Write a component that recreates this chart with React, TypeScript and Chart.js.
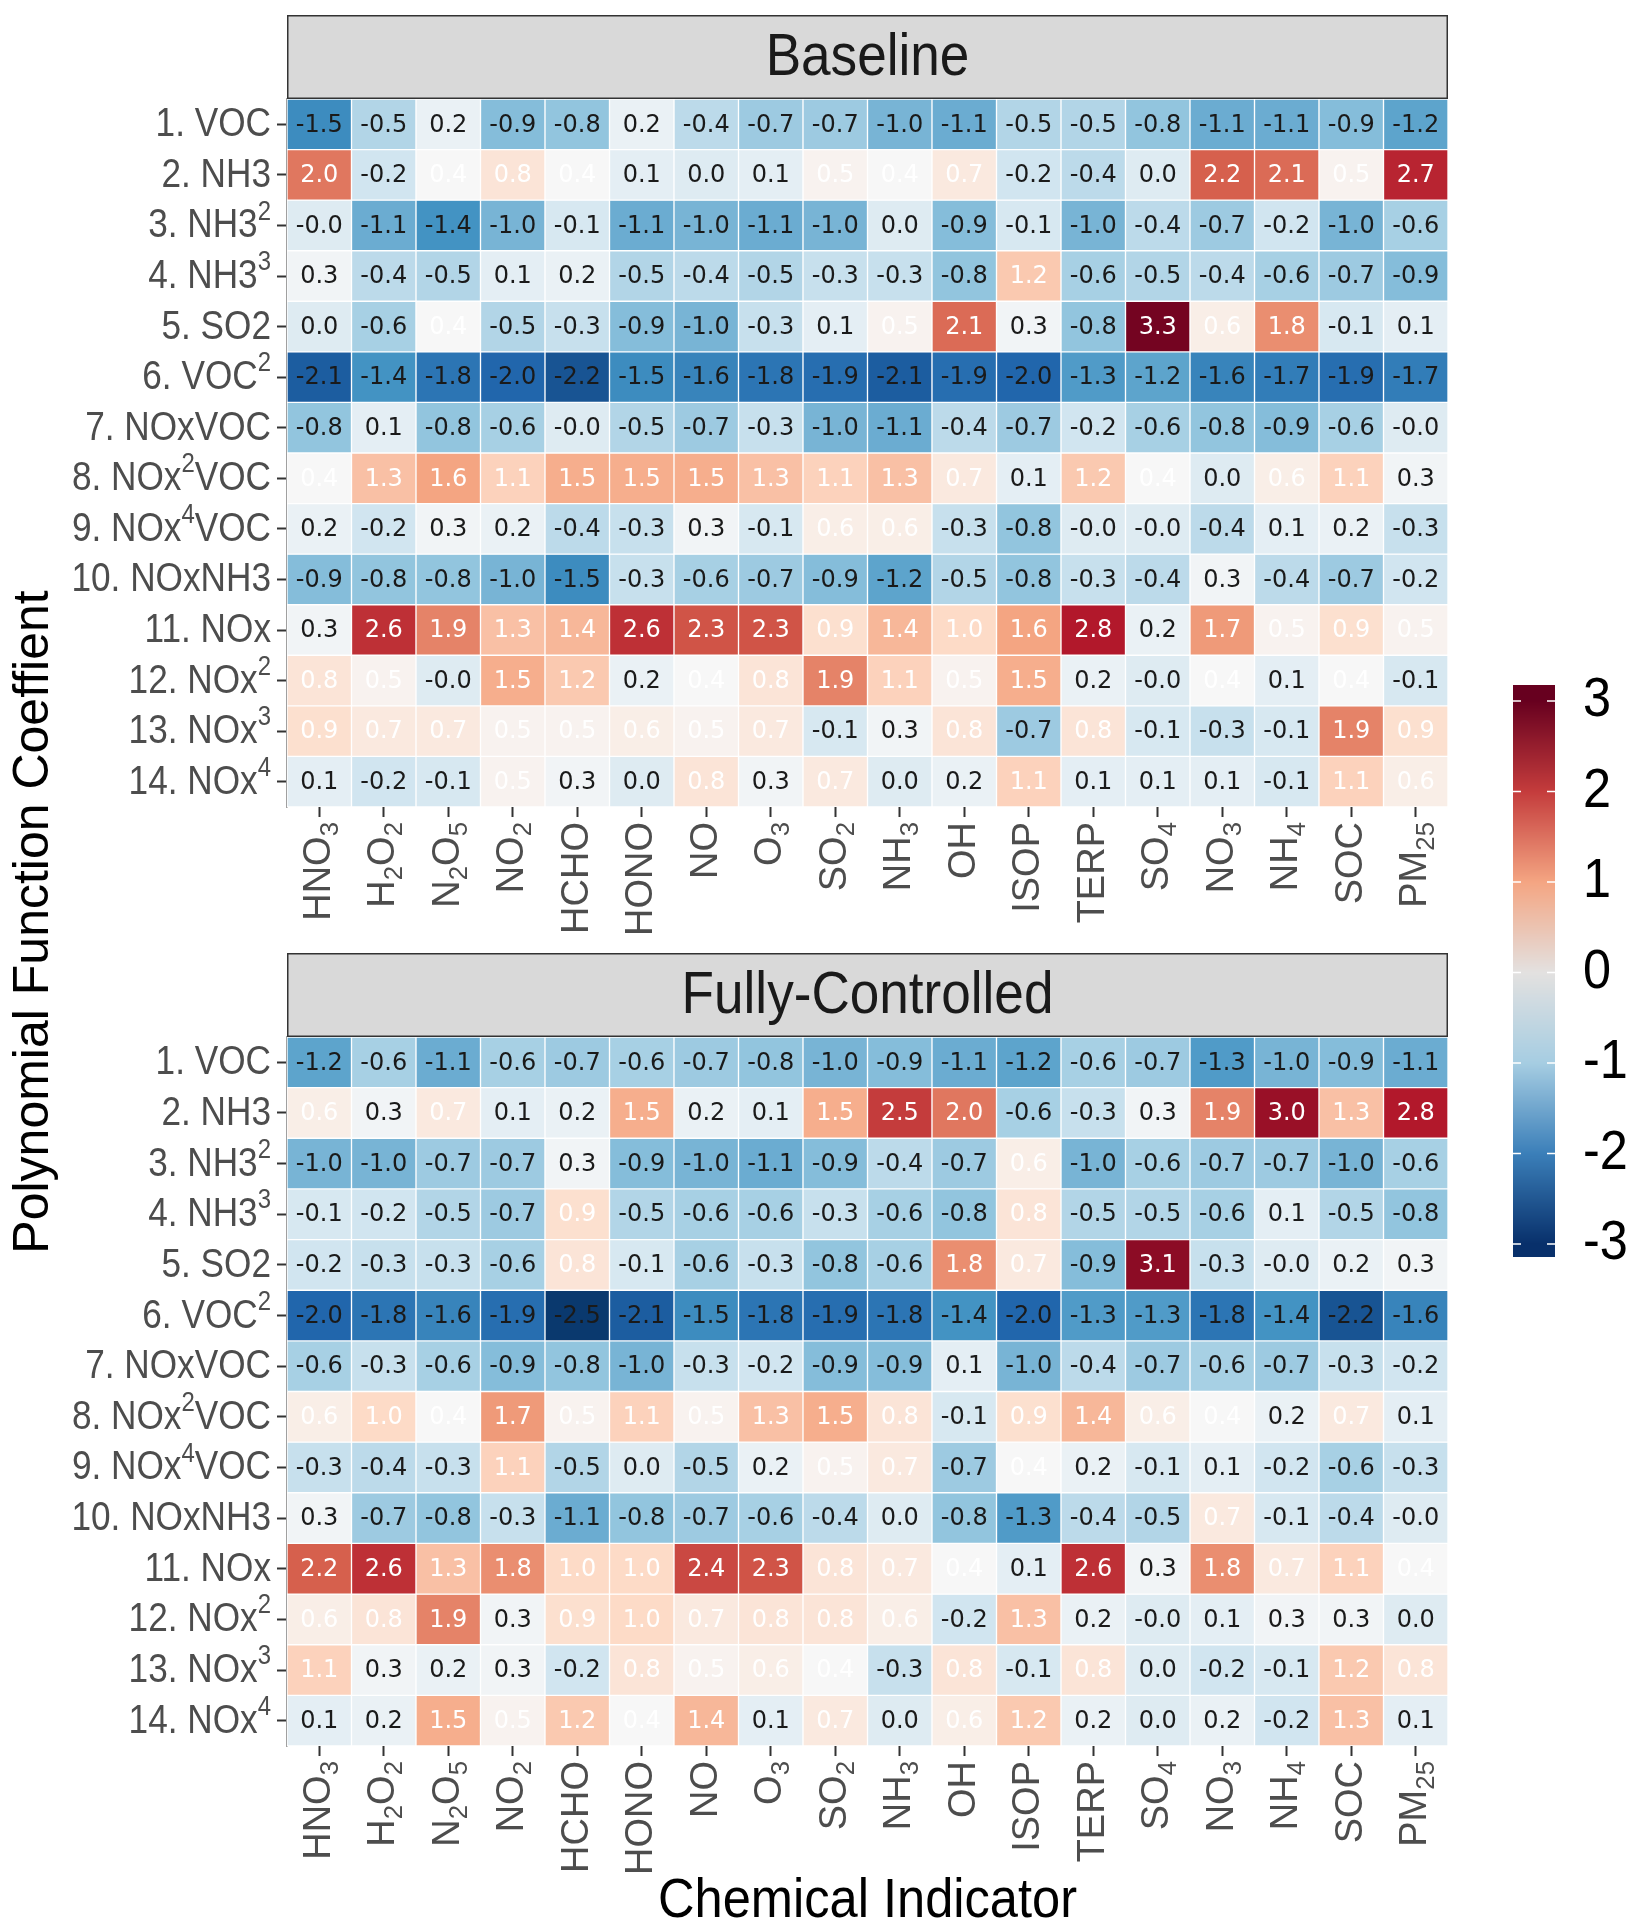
import React, { useEffect, useRef } from "react";
import { Chart, registerables } from "chart.js";

Chart.register(...registerables);

// ---------------- DATA ----------------
const chemicals = ["HNO3", "H2O2", "N2O5", "NO2", "HCHO", "HONO", "NO", "O3", "SO2", "NH3", "OH", "ISOP", "TERP", "SO4", "NO3", "NH4", "SOC", "PM25"];
const terms = ["1. VOC", "2. NH3", "3. NH3^2", "4. NH3^3", "5. SO2", "6. VOC^2", "7. NOxVOC", "8. NOx^2VOC", "9. NOx^4VOC", "10. NOxNH3", "11. NOx", "12. NOx^2", "13. NOx^3", "14. NOx^4"];
const panelTitles = ["Baseline", "Fully-Controlled"];
const colorbarTicks = [3, 2, 1, 0, -1, -2, -3];

// Baseline coefficients (rows = terms, cols = chemicals)
const baseline = [
  [-1.5, -0.5, 0.2, -0.9, -0.8, 0.2, -0.4, -0.7, -0.7, -1.0, -1.1, -0.5, -0.5, -0.8, -1.1, -1.1, -0.9, -1.2],
  [2.0, -0.2, 0.4, 0.8, 0.4, 0.1, 0.0, 0.1, 0.5, 0.4, 0.7, -0.2, -0.4, 0.0, 2.2, 2.1, 0.5, 2.7],
  [-0, -1.1, -1.4, -1.0, -0.1, -1.1, -1.0, -1.1, -1.0, 0.0, -0.9, -0.1, -1.0, -0.4, -0.7, -0.2, -1.0, -0.6],
  [0.3, -0.4, -0.5, 0.1, 0.2, -0.5, -0.4, -0.5, -0.3, -0.3, -0.8, 1.2, -0.6, -0.5, -0.4, -0.6, -0.7, -0.9],
  [0.0, -0.6, 0.4, -0.5, -0.3, -0.9, -1.0, -0.3, 0.1, 0.5, 2.1, 0.3, -0.8, 3.3, 0.6, 1.8, -0.1, 0.1],
  [-2.1, -1.4, -1.8, -2.0, -2.2, -1.5, -1.6, -1.8, -1.9, -2.1, -1.9, -2.0, -1.3, -1.2, -1.6, -1.7, -1.9, -1.7],
  [-0.8, 0.1, -0.8, -0.6, -0, -0.5, -0.7, -0.3, -1.0, -1.1, -0.4, -0.7, -0.2, -0.6, -0.8, -0.9, -0.6, -0],
  [0.4, 1.3, 1.6, 1.1, 1.5, 1.5, 1.5, 1.3, 1.1, 1.3, 0.7, 0.1, 1.2, 0.4, 0.0, 0.6, 1.1, 0.3],
  [0.2, -0.2, 0.3, 0.2, -0.4, -0.3, 0.3, -0.1, 0.6, 0.6, -0.3, -0.8, -0, -0, -0.4, 0.1, 0.2, -0.3],
  [-0.9, -0.8, -0.8, -1.0, -1.5, -0.3, -0.6, -0.7, -0.9, -1.2, -0.5, -0.8, -0.3, -0.4, 0.3, -0.4, -0.7, -0.2],
  [0.3, 2.6, 1.9, 1.3, 1.4, 2.6, 2.3, 2.3, 0.9, 1.4, 1.0, 1.6, 2.8, 0.2, 1.7, 0.5, 0.9, 0.5],
  [0.8, 0.5, -0, 1.5, 1.2, 0.2, 0.4, 0.8, 1.9, 1.1, 0.5, 1.5, 0.2, -0, 0.4, 0.1, 0.4, -0.1],
  [0.9, 0.7, 0.7, 0.5, 0.5, 0.6, 0.5, 0.7, -0.1, 0.3, 0.8, -0.7, 0.8, -0.1, -0.3, -0.1, 1.9, 0.9],
  [0.1, -0.2, -0.1, 0.5, 0.3, 0.0, 0.8, 0.3, 0.7, 0.0, 0.2, 1.1, 0.1, 0.1, 0.1, -0.1, 1.1, 0.6],
];

// Fully-controlled coefficients
const controlled = [
  [-1.2, -0.6, -1.1, -0.6, -0.7, -0.6, -0.7, -0.8, -1.0, -0.9, -1.1, -1.2, -0.6, -0.7, -1.3, -1.0, -0.9, -1.1],
  [0.6, 0.3, 0.7, 0.1, 0.2, 1.5, 0.2, 0.1, 1.5, 2.5, 2.0, -0.6, -0.3, 0.3, 1.9, 3.0, 1.3, 2.8],
  [-1.0, -1.0, -0.7, -0.7, 0.3, -0.9, -1.0, -1.1, -0.9, -0.4, -0.7, 0.6, -1.0, -0.6, -0.7, -0.7, -1.0, -0.6],
  [-0.1, -0.2, -0.5, -0.7, 0.9, -0.5, -0.6, -0.6, -0.3, -0.6, -0.8, 0.8, -0.5, -0.5, -0.6, 0.1, -0.5, -0.8],
  [-0.2, -0.3, -0.3, -0.6, 0.8, -0.1, -0.6, -0.3, -0.8, -0.6, 1.8, 0.7, -0.9, 3.1, -0.3, -0, 0.2, 0.3],
  [-2.0, -1.8, -1.6, -1.9, -2.5, -2.1, -1.5, -1.8, -1.9, -1.8, -1.4, -2.0, -1.3, -1.3, -1.8, -1.4, -2.2, -1.6],
  [-0.6, -0.3, -0.6, -0.9, -0.8, -1.0, -0.3, -0.2, -0.9, -0.9, 0.1, -1.0, -0.4, -0.7, -0.6, -0.7, -0.3, -0.2],
  [0.6, 1.0, 0.4, 1.7, 0.5, 1.1, 0.5, 1.3, 1.5, 0.8, -0.1, 0.9, 1.4, 0.6, 0.4, 0.2, 0.7, 0.1],
  [-0.3, -0.4, -0.3, 1.1, -0.5, 0.0, -0.5, 0.2, 0.5, 0.7, -0.7, 0.4, 0.2, -0.1, 0.1, -0.2, -0.6, -0.3],
  [0.3, -0.7, -0.8, -0.3, -1.1, -0.8, -0.7, -0.6, -0.4, 0.0, -0.8, -1.3, -0.4, -0.5, 0.7, -0.1, -0.4, -0],
  [2.2, 2.6, 1.3, 1.8, 1.0, 1.0, 2.4, 2.3, 0.8, 0.7, 0.4, 0.1, 2.6, 0.3, 1.8, 0.7, 1.1, 0.4],
  [0.6, 0.8, 1.9, 0.3, 0.9, 1.0, 0.7, 0.8, 0.8, 0.6, -0.2, 1.3, 0.2, -0, 0.1, 0.3, 0.3, 0.0],
  [1.1, 0.3, 0.2, 0.3, -0.2, 0.8, 0.5, 0.6, 0.4, -0.3, 0.8, -0.1, 0.8, 0.0, -0.2, -0.1, 1.2, 0.8],
  [0.1, 0.2, 1.5, 0.5, 1.2, 0.4, 1.4, 0.1, 0.7, 0.0, 0.6, 1.2, 0.2, 0.0, 0.2, -0.2, 1.3, 0.1],
];

// ---------------- STYLE ----------------
const SANS = "'Liberation Sans', Arial, Helvetica, sans-serif";
const CELL_FONT = "'DejaVu Sans', Verdana, sans-serif";
const W = 1639;
const H = 1932;
const SPLIT = 945; // canvas boundary between the two panels
const PLOT_LEFT = 287;
const PLOT_RIGHT = 1448;
const STRIP_H = 84;
const TICK_LEN = 10;
const AXIS_TEXT = "#4d4d4d";

const RDBU: [number, string][] = [
  [-3.0, "#053061"], [-2.4, "#2166ac"], [-1.8, "#4393c3"], [-1.2, "#92c5de"], [-0.6, "#d1e5f0"],
  [0.0, "#f7f7f7"], [0.6, "#fddbc7"], [1.2, "#f4a582"], [1.8, "#d6604d"], [2.4, "#b2182b"], [3.0, "#67001f"],
];
const BAR_STOPS: [number, string][] = [
  [-3.0, "#08306b"], [-2.0, "#3b7fb9"], [-1.0, "#a6cde2"], [0.0, "#e3e1e0"],
  [1.0, "#f4a582"], [2.0, "#c43c3c"], [3.0, "#67001f"],
];
const COLOR_SHIFT = 0.4;

function hexToRgb(h: string) {
  const n = parseInt(h.slice(1), 16);
  return [(n >> 16) & 255, (n >> 8) & 255, n & 255];
}
function interp(stops: [number, string][], v: number) {
  if (v <= stops[0][0]) return stops[0][1];
  if (v >= stops[stops.length - 1][0]) return stops[stops.length - 1][1];
  for (let i = 0; i < stops.length - 1; i++) {
    const [a, ca] = stops[i];
    const [b, cb] = stops[i + 1];
    if (v >= a && v <= b) {
      const t = (v - a) / (b - a);
      const A = hexToRgb(ca), B = hexToRgb(cb);
      const c = A.map((x, k) => Math.round(x + (B[k] - x) * t));
      return `rgb(${c[0]},${c[1]},${c[2]})`;
    }
  }
  return stops[0][1];
}
const cellColor = (v: number) => interp(RDBU, v - COLOR_SHIFT);

function fmt(v: number) {
  const neg = v < 0 || Object.is(v, -0);
  return (neg ? "-" : "") + Math.abs(v).toFixed(1);
}

type Seg = { t: string; k: number };
function parseTerm(s: string): Seg[] {
  const segs: Seg[] = [];
  let buf = "";
  for (let i = 0; i < s.length; i++) {
    if (s[i] === "^") {
      if (buf) segs.push({ t: buf, k: 0 });
      buf = "";
      segs.push({ t: s[i + 1], k: 1 });
      i++;
    } else buf += s[i];
  }
  if (buf) segs.push({ t: buf, k: 0 });
  return segs;
}
function parseChem(s: string): Seg[] {
  const segs: Seg[] = [];
  for (const ch of s) {
    const k = /\d/.test(ch) ? -1 : 0;
    const last = segs[segs.length - 1];
    if (last && last.k === k) last.t += ch;
    else segs.push({ t: ch, k });
  }
  return segs;
}
function drawRich(ctx: CanvasRenderingContext2D, segs: Seg[], size: number, align: string) {
  const small = size * 0.68;
  ctx.textBaseline = "middle";
  ctx.textAlign = "left";
  const widths = segs.map((s) => {
    ctx.font = `${s.k ? small : size}px ${SANS}`;
    return ctx.measureText(s.t).width;
  });
  const total = widths.reduce((a, b) => a + b, 0);
  let x = align === "right" ? -total : align === "center" ? -total / 2 : 0;
  segs.forEach((s, i) => {
    ctx.font = `${s.k ? small : size}px ${SANS}`;
    const dy = s.k === 1 ? -size * 0.36 : s.k === -1 ? size * 0.3 : 0;
    ctx.fillText(s.t, x, dy);
    x += widths[i];
  });
}

function makePanelPlugin(values: number[][], title: string, withXTitle: boolean) {
  return {
    id: "panelDecor",
    afterDatasetsDraw(chart: any) {
      const ctx: CanvasRenderingContext2D = chart.ctx;
      const xs = chart.scales.x;
      const ys = chart.scales.y;
      ctx.save();
      ctx.font = `24px ${CELL_FONT}`;
      ctx.textAlign = "center";
      ctx.textBaseline = "middle";
      values.forEach((row, r) => {
        row.forEach((v, c) => {
          const px = xs.getPixelForValue(c);
          const py = ys.getPixelForValue(r + 1);
          ctx.fillStyle = v >= 0.35 ? "#ffffff" : "#1a1a1a";
          ctx.fillText(fmt(v), px, py + 1);
        });
      });
      ctx.restore();
    },
    afterDraw(chart: any) {
      const ctx: CanvasRenderingContext2D = chart.ctx;
      const area = chart.chartArea;
      const xs = chart.scales.x;
      const ys = chart.scales.y;
      ctx.save();
      // strip header
      ctx.fillStyle = "#d9d9d9";
      ctx.fillRect(area.left, area.top - STRIP_H, area.right - area.left, STRIP_H);
      ctx.strokeStyle = "#333333";
      ctx.lineWidth = 1.5;
      ctx.strokeRect(area.left + 0.75, area.top - STRIP_H + 0.75, area.right - area.left - 1.5, STRIP_H - 1.5);
      ctx.fillStyle = "#1a1a1a";
      ctx.font = `59px ${SANS}`;
      ctx.textAlign = "center";
      ctx.textBaseline = "middle";
      ctx.save();
      ctx.translate((area.left + area.right) / 2, area.top - STRIP_H / 2 + 2);
      ctx.scale(0.9, 1);
      ctx.fillText(title, 0, 0);
      ctx.restore();

      // y tick labels
      ctx.fillStyle = AXIS_TEXT;
      terms.forEach((t, r) => {
        const py = ys.getPixelForValue(r + 1);
        ctx.save();
        ctx.translate(area.left - TICK_LEN - 6, py + 1);
        ctx.scale(0.88, 1);
        drawRich(ctx, parseTerm(t), 40, "right");
        ctx.restore();
      });
      // x tick labels (rotated)
      chemicals.forEach((c, i) => {
        const px = xs.getPixelForValue(i);
        ctx.save();
        ctx.translate(px, area.bottom + TICK_LEN + 5);
        ctx.rotate(-Math.PI / 2);
        drawRich(ctx, parseChem(c), 38, "right");
        ctx.restore();
      });
      if (withXTitle) {
        ctx.fillStyle = "#000000";
        ctx.font = `55px ${SANS}`;
        ctx.textAlign = "center";
        ctx.textBaseline = "middle";
        ctx.save();
        ctx.translate((area.left + area.right) / 2, 1902 - SPLIT);
        ctx.scale(0.92, 1);
        ctx.fillText("Chemical Indicator", 0, 0);
        ctx.restore();
      }
      ctx.restore();
    },
  };
}

function makeConfig(values: number[][], title: string, canvasH: number, top: number, bottom: number, withXTitle: boolean) {
  return {
    type: "bar",
    data: {
      labels: chemicals,
      datasets: terms.map((term, r) => ({
        label: term,
        data: chemicals.map(() => [r + 0.5, r + 1.5]),
        backgroundColor: values[r].map((v) => cellColor(v)),
        borderColor: "#ffffff",
        borderWidth: 1,
        borderSkipped: false,
        barPercentage: 1,
        categoryPercentage: 1,
        grouped: false,
      })),
    },
    options: {
      responsive: false,
      animation: false,
      devicePixelRatio: 1,
      events: [],
      layout: { padding: { top, right: W - PLOT_RIGHT, bottom: 0, left: 0 }, autoPadding: false },
      plugins: { legend: { display: false }, tooltip: { enabled: false }, title: { display: false } },
      scales: {
        x: {
          type: "category",
          offset: true,
          ticks: { display: false },
          border: { display: false },
          grid: { offset: false, drawOnChartArea: false, drawTicks: true, tickLength: TICK_LEN, tickColor: "#333333", tickWidth: 2 },
          afterFit: (s: any) => { s.height = canvasH - bottom; },
        },
        y: {
          type: "linear",
          min: 0.5,
          max: 14.5,
          reverse: true,
          afterBuildTicks: (s: any) => { s.ticks = terms.map((_, i) => ({ value: i + 1 })); },
          ticks: { display: false },
          border: { display: true, color: "#a0a0a0", width: 1.5 },
          grid: { drawOnChartArea: false, drawTicks: true, tickLength: TICK_LEN, tickColor: "#333333", tickWidth: 2 },
          afterFit: (s: any) => { s.width = PLOT_LEFT; },
        },
      },
    },
    plugins: [makePanelPlugin(values, title, withXTitle)],
  };
}

function drawDecor(canvas: HTMLCanvasElement) {
  const ctx = canvas.getContext("2d")!;
  ctx.clearRect(0, 0, W, H);
  // y axis title
  ctx.save();
  ctx.translate(34, 922);
  ctx.rotate(-Math.PI / 2);
  ctx.fillStyle = "#000000";
  ctx.font = `50px ${SANS}`;
  ctx.textAlign = "center";
  ctx.textBaseline = "middle";
  ctx.fillText("Polynomial Function Coeffient", 0, 0);
  ctx.restore();

  // colorbar
  const x0 = 1513, x1 = 1555;
  const zeroY = 972.5, perUnit = 90.5;
  const yOf = (v: number) => zeroY - v * perUnit;
  const top = yOf(3.17), bot = yOf(-3.14);
  for (let y = Math.floor(top); y < bot; y++) {
    const v = (zeroY - (y + 0.5)) / perUnit;
    ctx.fillStyle = interp(BAR_STOPS, v);
    ctx.fillRect(x0, y, x1 - x0, 1);
  }
  ctx.strokeStyle = "#ffffff";
  ctx.lineWidth = 1.5;
  ctx.fillStyle = "#000000";
  ctx.font = `56px ${SANS}`;
  ctx.textAlign = "left";
  ctx.textBaseline = "middle";
  colorbarTicks.forEach((t) => {
    const y = yOf(t);
    ctx.beginPath();
    ctx.moveTo(x0, y); ctx.lineTo(x0 + 8, y);
    ctx.moveTo(x1 - 8, y); ctx.lineTo(x1, y);
    ctx.stroke();
    ctx.save();
    ctx.translate(1583, y);
    ctx.scale(0.9, 1);
    ctx.fillText(String(t), 0, 0);
    ctx.restore();
  });
}

export default function App() {
  const decorRef = useRef<HTMLCanvasElement>(null);
  const topRef = useRef<HTMLCanvasElement>(null);
  const botRef = useRef<HTMLCanvasElement>(null);

  useEffect(() => {
    document.body.style.margin = "0";
    document.body.style.overflow = "hidden";
    if (decorRef.current) drawDecor(decorRef.current);
    const c1 = new Chart(topRef.current!, makeConfig(baseline, panelTitles[0], SPLIT, 99, 807, false) as any);
    const c2 = new Chart(botRef.current!, makeConfig(controlled, panelTitles[1], H - SPLIT, 1037 - SPLIT, 1746 - SPLIT, true) as any);
    return () => {
      c1.destroy();
      c2.destroy();
    };
  }, []);

  return (
    <div style={{ position: "absolute", left: 0, top: 0, width: W, height: H, background: "#ffffff", overflow: "hidden" }}>
      <canvas ref={decorRef} width={W} height={H} style={{ position: "absolute", left: 0, top: 0 }} />
      <canvas ref={topRef} width={W} height={SPLIT} style={{ position: "absolute", left: 0, top: 0, width: W, height: SPLIT }} />
      <canvas ref={botRef} width={W} height={H - SPLIT} style={{ position: "absolute", left: 0, top: SPLIT, width: W, height: H - SPLIT }} />
    </div>
  );
}
